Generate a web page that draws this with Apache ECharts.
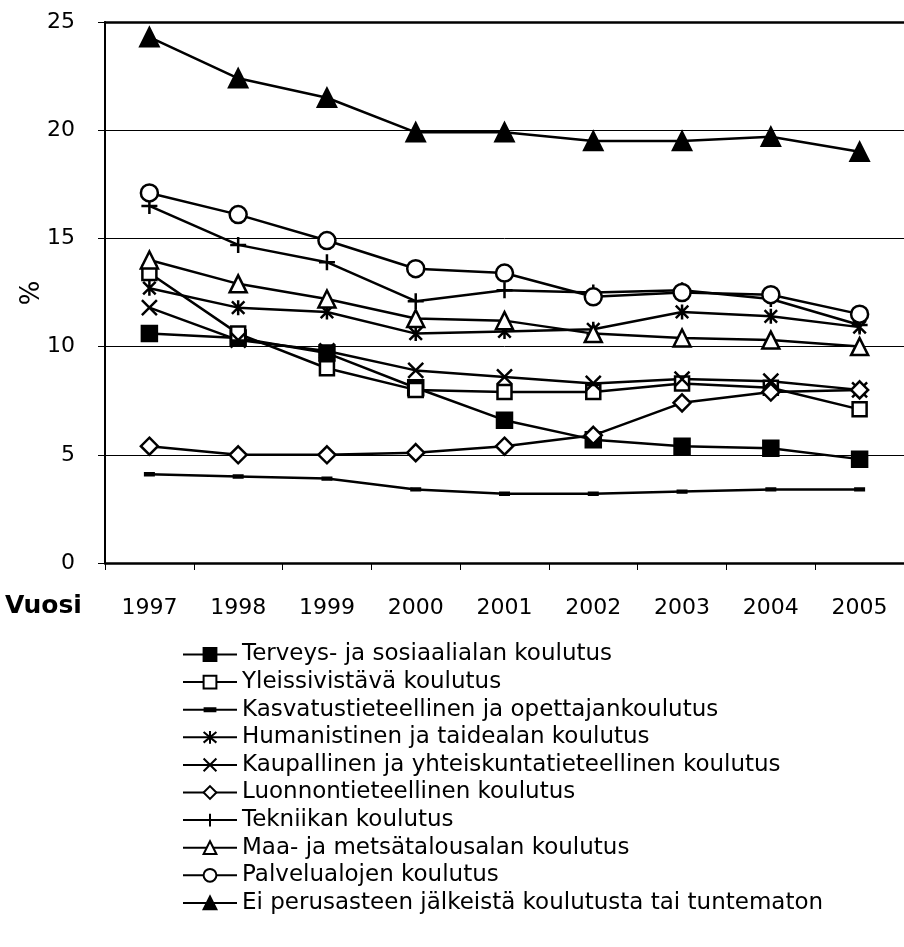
<!DOCTYPE html>
<html>
<head>
<meta charset="utf-8">
<script src="https://cdn.jsdelivr.net/npm/echarts@6/dist/echarts.min.js"></script>
<style>
  html, body { margin: 0; padding: 0; background: #fff; }
  #chart { width: 904px; height: 947px; }
</style>
</head>
<body>
<div id="chart"></div>
<script>
const years = ['1997', '1998', '1999', '2000', '2001', '2002', '2003', '2004', '2005']

const terveys = [10.6, 10.4, 9.7, 8.1, 6.6, 5.7, 5.4, 5.3, 4.8]
const yleissivistava = [13.4, 10.6, 9.0, 8.0, 7.9, 7.9, 8.3, 8.1, 7.1]
const kasvatus = [4.1, 4.0, 3.9, 3.4, 3.2, 3.2, 3.3, 3.4, 3.4]
const humanistinen = [12.7, 11.8, 11.6, 10.6, 10.7, 10.8, 11.6, 11.4, 10.9]
const kaupallinen = [11.8, 10.3, 9.8, 8.9, 8.6, 8.3, 8.5, 8.4, 8.0]
const luonnontiet = [5.4, 5.0, 5.0, 5.1, 5.4, 5.9, 7.4, 7.9, 8.0]
const tekniikka = [16.5, 14.7, 13.9, 12.1, 12.6, 12.5, 12.6, 12.2, 11.0]
const maaMetsa = [14.0, 12.9, 12.2, 11.3, 11.2, 10.6, 10.4, 10.3, 10.0]
const palvelu = [17.1, 16.1, 14.9, 13.6, 13.4, 12.3, 12.5, 12.4, 11.5]
const eiPerus = [24.3, 22.4, 21.5, 19.9, 19.9, 19.5, 19.5, 19.7, 19.0]

const font = 'DejaVu Sans'

const plusPath = 'path://M5,0L5,10M0,5L10,5'
const crossPath = 'path://M0,0L10,10M10,0L0,10'
const starPath = 'path://M0,0L10,10M10,0L0,10M5,-1L5,11'
// thin bar in the middle of a 10x10 box
const dashPath = 'path://M0,0L0.01,0L0,0.01Z M0,3L10,3L10,7L0,7Z M10,10L9.99,10L10,9.99Z'

function makeSeries(name, data, symbol, size, filled, border) {
  return {
    name: name,
    type: 'line',
    data: data,
    symbol: symbol,
    symbolSize: size,
    symbolKeepAspect: true,
    showAllSymbol: true,
    lineStyle: { color: '#000', width: 2.5 },
    itemStyle: {
      color: filled ? '#000' : '#fff',
      borderColor: '#000',
      borderWidth: border == null ? 2.5 : border,
    },
    emphasis: { disabled: true },
    animation: false,
  }
}

const series = [
  makeSeries('Terveys- ja sosiaalialan koulutus', terveys, 'rect', 15, true),
  makeSeries('Yleissivistävä koulutus', yleissivistava, 'rect', 14, false),
  makeSeries('Kasvatustieteellinen ja opettajankoulutus', kasvatus, dashPath, 11, true, 0),
  makeSeries('Humanistinen ja taidealan koulutus', humanistinen, starPath, 15, true),
  makeSeries('Kaupallinen ja yhteiskuntatieteellinen koulutus', kaupallinen, crossPath, 15, true),
  makeSeries('Luonnontieteellinen koulutus', luonnontiet, 'diamond', 17, false),
  makeSeries('Tekniikan koulutus', tekniikka, plusPath, 16, true),
  makeSeries('Maa- ja metsätalousalan koulutus', maaMetsa, 'triangle', 17, false),
  makeSeries('Palvelualojen koulutus', palvelu, 'circle', 17, false),
  makeSeries('Ei perusasteen jälkeistä koulutusta tai tuntematon', eiPerus, 'triangle', 18, true),
]

const chart = echarts.init(document.getElementById('chart'))

chart.setOption({
  animation: false,
  backgroundColor: '#fff',
  textStyle: { fontFamily: font, color: '#000' },
  grid: {
    left: 105,
    right: -9,
    top: 22,
    bottom: 384,
    containLabel: false,
  },
  graphic: [
    {
      type: 'text',
      left: 5,
      top: 594,
      style: { text: 'Vuosi', font: 'bold 25px "DejaVu Sans"', fill: '#000' },
    },
    {
      type: 'text',
      x: 19,
      y: 293,
      rotation: Math.PI / 2,
      style: {
        text: '%',
        font: '26px "DejaVu Sans"',
        fill: '#000',
        align: 'center',
        verticalAlign: 'top',
      },
    },
  ],
  xAxis: [
    {
      type: 'category',
      data: years,
      boundaryGap: true,
      axisLine: { lineStyle: { color: '#000', width: 2.5 } },
      axisTick: { show: true, length: 7, inside: false, lineStyle: { color: '#000', width: 1 } },
      axisLabel: { color: '#000', fontSize: 22, margin: 34, fontFamily: font },
      splitLine: { show: false },
    },
    {
      type: 'category',
      data: years,
      position: 'top',
      boundaryGap: true,
      axisLine: { lineStyle: { color: '#000', width: 2.5 } },
      axisTick: { show: false },
      axisLabel: { show: false },
      splitLine: { show: false },
    },
  ],
  yAxis: {
    type: 'value',
    min: 0,
    max: 25,
    interval: 5,
    axisLine: { show: true, lineStyle: { color: '#000', width: 2 } },
    axisTick: { show: true, length: 7, lineStyle: { color: '#000', width: 1 } },
    axisLabel: { color: '#000', fontSize: 22, margin: 30, fontFamily: font },
    splitLine: { show: true, lineStyle: { color: '#000', width: 1 } },
  },
  legend: {
    orient: 'vertical',
    left: 182,
    top: 643,
    padding: 0,
    itemWidth: 54,
    itemHeight: 16,
    itemGap: 4.6,
    textStyle: { color: '#000', fontSize: 23, lineHeight: 20, fontFamily: font },
    selectedMode: false,
    data: series.map(s => s.name),
  },
  series: series,
})
</script>
</body>
</html>
